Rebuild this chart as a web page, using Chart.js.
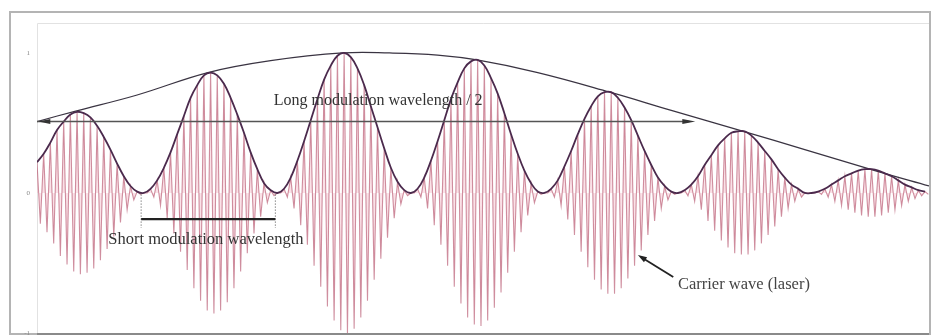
<!DOCTYPE html>
<html>
<head>
<meta charset="utf-8">
<script src="https://cdn.jsdelivr.net/npm/chart.js@4"></script>
<style>
html,body{margin:0;padding:0;background:#fff;}
#wrap{width:931px;height:336px;}
</style>
</head>
<body>
<div id="wrap"><canvas id="c" width="931" height="336"></canvas></div>
<script>
// Carrier amplitude (short-modulation envelope) at each carrier cycle
const carrierAmplitude = [
  0.22,0.28,0.36,0.45,0.51,0.56,0.58,0.57,0.54,0.48,0.40,0.31,0.21,0.12,0.05,0.01,
  0.00,0.03,0.09,0.18,0.29,0.42,0.55,0.68,0.77,0.84,0.86,0.84,0.78,0.68,0.56,0.43,0.29,0.17,0.07,0.02,
  0.00,0.03,0.11,0.23,0.37,0.52,0.67,0.81,0.91,0.98,1.00,0.97,0.89,0.77,0.62,0.47,0.32,0.18,0.08,0.02,
  0.00,0.03,0.11,0.23,0.37,0.52,0.67,0.79,0.89,0.94,0.95,0.91,0.82,0.71,0.57,0.42,0.28,0.16,0.07,0.01,
  0.00,0.03,0.09,0.19,0.30,0.42,0.53,0.62,0.69,0.72,0.72,0.68,0.61,0.52,0.41,0.30,0.20,0.11,0.05,0.01,
  0.00,0.02,0.06,0.12,0.20,0.27,0.34,0.39,0.43,0.44,0.44,0.41,0.36,0.30,0.24,0.17,0.11,0.06,0.03,0.00,
  0.00,0.01,0.03,0.06,0.09,0.12,0.14,0.16,0.17,0.17,0.16,0.14,0.12,0.09,0.06,0.04,0.02,0.01
];
// Long modulation envelope (x in carrier cycles)
const longEnvX = [0, 5.8, 15, 25.6, 35, 45.8, 52.8, 60, 65.9, 75, 85.8, 95, 105.8, 115, 125.5, 133.6];
const longEnvY = [0.51, 0.585, 0.70, 0.86, 0.945, 1.0, 1.0, 0.985, 0.95, 0.86, 0.72, 0.59, 0.44, 0.31, 0.16, 0.05];
// Tick labels
const yTickValues = [-1, 0, 1];
const yTickLabels = ['-1', '0', '1'];
// Annotation texts
const labelLong = 'Long modulation wavelength / 2';
const labelShort = 'Short modulation wavelength';
const labelCarrier = 'Carrier wave (laser)';

const carrierPts = [];
const envPts = [];
carrierAmplitude.forEach((a, i) => {
  carrierPts.push({x: i, y: a});
  carrierPts.push({x: i + 0.5, y: -a});
  envPts.push({x: i, y: a});
});
const longPts = longEnvX.map((x, i) => ({x, y: longEnvY[i]}));

const frame = {
  id: 'frame',
  beforeDraw(chart) {
    const ctx = chart.ctx, a = chart.chartArea;
    ctx.save();
    ctx.fillStyle = '#fff';
    ctx.fillRect(0, 0, chart.width, chart.height);
    ctx.strokeStyle = '#b4b4b4';
    ctx.lineWidth = 2;
    ctx.strokeRect(10, 12, 920, 322);
    ctx.strokeStyle = '#e2e2e2';
    ctx.lineWidth = 1;
    ctx.beginPath();
    ctx.moveTo(a.left + 0.5, a.bottom);
    ctx.lineTo(a.left + 0.5, a.top + 0.5);
    ctx.lineTo(a.right, a.top + 0.5);
    ctx.stroke();
    ctx.strokeStyle = '#8a8a8a';
    ctx.lineWidth = 2;
    ctx.beginPath();
    ctx.moveTo(a.left, a.bottom + 1);
    ctx.lineTo(a.right, a.bottom + 1);
    ctx.stroke();
    ctx.restore();
  }
};

function arrowHead(ctx, x1, y1, x2, y2, len, w) {
  const ang = Math.atan2(y2 - y1, x2 - x1);
  ctx.beginPath();
  ctx.moveTo(x2, y2);
  ctx.lineTo(x2 - len * Math.cos(ang) + w * Math.sin(ang), y2 - len * Math.sin(ang) - w * Math.cos(ang));
  ctx.lineTo(x2 - len * Math.cos(ang) - w * Math.sin(ang), y2 - len * Math.sin(ang) + w * Math.cos(ang));
  ctx.closePath();
  ctx.fill();
}

const notes = {
  id: 'notes',
  afterDatasetsDraw(chart) {
    const ctx = chart.ctx, xs = chart.scales.x, ys = chart.scales.y;
    const X = v => xs.getPixelForValue(v), Y = v => ys.getPixelForValue(v);
    ctx.save();
    // long modulation arrow
    ctx.strokeStyle = '#555';
    ctx.fillStyle = '#333';
    ctx.lineWidth = 1.5;
    const ay = Y(0.51);
    ctx.beginPath();
    ctx.moveTo(X(0), ay);
    ctx.lineTo(X(98.6) - 6, ay);
    ctx.stroke();
    arrowHead(ctx, X(0), ay, X(98.6), ay, 13, 2.5);
    arrowHead(ctx, X(98.6), ay, X(0.2), ay, 12, 2.5);
    // long label
    ctx.font = '16px "Liberation Serif", serif';
    ctx.fillStyle = '#333';
    ctx.textAlign = 'center';
    ctx.textBaseline = 'middle';
    ctx.fillText(labelLong, X(51.1), Y(0.655));
    // short modulation dimension
    const sx1 = X(15.6), sx2 = X(35.7);
    ctx.strokeStyle = '#888';
    ctx.lineWidth = 1;
    ctx.setLineDash([1.5, 1.5]);
    ctx.beginPath();
    ctx.moveTo(sx1, Y(-0.01)); ctx.lineTo(sx1, Y(-0.25));
    ctx.moveTo(sx2, Y(-0.01)); ctx.lineTo(sx2, Y(-0.25));
    ctx.stroke();
    ctx.setLineDash([]);
    ctx.strokeStyle = '#222';
    ctx.lineWidth = 2.2;
    ctx.beginPath();
    ctx.moveTo(sx1, Y(-0.186)); ctx.lineTo(sx2, Y(-0.186));
    ctx.stroke();
    ctx.fillStyle = '#333';
    ctx.font = '16.5px "Liberation Serif", serif';
    ctx.fillText(labelShort, X(25.3), Y(-0.336));
    // carrier arrow
    ctx.strokeStyle = '#222';
    ctx.fillStyle = '#222';
    ctx.lineWidth = 1.8;
    const cx1 = X(95.3), cy1 = Y(-0.60), cx2 = X(90.0), cy2 = Y(-0.443);
    ctx.beginPath();
    ctx.moveTo(cx1, cy1); ctx.lineTo(cx2 + 3, cy2 + 2);
    ctx.stroke();
    arrowHead(ctx, cx1, cy1, cx2, cy2, 9, 3);
    ctx.fillStyle = '#444';
    ctx.textAlign = 'left';
    ctx.font = '16.5px "Liberation Serif", serif';
    ctx.fillText(labelCarrier, X(96.0), Y(-0.657));
    ctx.restore();
  }
};

new Chart(document.getElementById('c'), {
  type: 'line',
  data: {
    datasets: [
      {data: envPts, borderColor: '#4b2a4d', borderWidth: 1.8, pointRadius: 0, tension: 0.4, order: 0},
      {data: longPts, borderColor: '#3a3442', borderWidth: 1.2, pointRadius: 0, tension: 0.4, order: 1},
      {data: carrierPts, borderColor: 'rgba(176,74,100,0.6)', borderWidth: 1.1, pointRadius: 0, tension: 0,
       fill: 'origin', backgroundColor: 'rgba(240,170,185,0.35)', order: 2}
    ]
  },
  options: {
    responsive: false,
    animation: false,
    events: [],
    layout: {padding: {top: 23, bottom: 3, left: 0, right: 2}},
    plugins: {legend: {display: false}, tooltip: {enabled: false}, filler: {propagate: false}},
    scales: {
      x: {type: 'linear', min: 0, max: 133.6, display: false},
      y: {
        type: 'linear', min: -1, max: 1.214,
        grid: {display: false, drawTicks: false},
        border: {display: false},
        afterBuildTicks: s => { s.ticks = yTickValues.map(v => ({value: v})); },
        afterFit: s => { s.width = 37; s.paddingTop = 0; s.paddingBottom = 0; },
        ticks: {
          padding: 7,
          color: '#888',
          font: {size: 7, family: '"Liberation Serif", serif'},
          callback: (v) => yTickLabels[yTickValues.indexOf(v)]
        }
      }
    }
  },
  plugins: [frame, notes]
});
</script>
</body>
</html>
